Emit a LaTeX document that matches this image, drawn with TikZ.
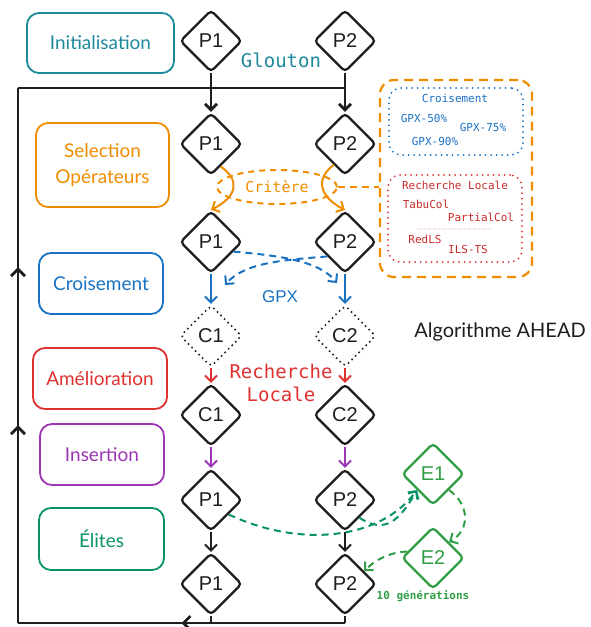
\documentclass[tikz,border=0pt]{standalone}
\usepackage{fontspec}
\usetikzlibrary{shapes.geometric,arrows.meta,decorations.markings,calc}
\newfontfamily\monof{DejaVu Sans Mono}
\newfontfamily\sansf{Liberation Sans}
\newfontfamily\handf{Lato}
\definecolor{cteal}{HTML}{1C8A9A}
\definecolor{corange}{HTML}{F08C00}
\definecolor{cblue}{HTML}{1971C2}
\definecolor{cred}{HTML}{E03131}
\definecolor{cdred}{HTML}{C92A2A}
\definecolor{cpurple}{HTML}{9C36B5}
\definecolor{celite}{HTML}{099268}
\definecolor{cgreen}{HTML}{2F9E44}
\definecolor{cink}{HTML}{1E1E1E}
\begin{document}
\begin{tikzpicture}[x=1pt,y=-1pt,
  dia/.style={diamond, draw=cink, line width=2.2pt, minimum size=62pt, inner sep=0pt, aspect=1, rounded corners=4pt, text=cink, font=\sansf\fontsize{20}{20}\selectfont},
  dotdia/.style={dia, dash pattern=on 0pt off 5pt, line cap=round},
  gdia/.style={dia, draw=cgreen, text=cgreen},
  lbl/.style={draw, rounded corners=12pt, line width=1.8pt, align=center, inner sep=0pt, font=\handf\fontsize{19}{26}\selectfont},
  arr/.style={line width=2pt, -{Straight Barb[length=6pt,width=12pt]}},
  dotted box/.style={draw, rounded corners=12pt, line width=2pt, dash pattern=on 0pt off 5.5pt, line cap=round},
  mono/.style={font=\monof\fontsize{#1}{#1}\selectfont},
  midarrow/.style={postaction={decorate, decoration={markings, mark=at position #1 with {\arrow[line width=2.8pt]{Straight Barb[length=7pt,width=14pt]}}}}}
]
\useasboundingbox (0,0) rectangle (591,627);

% left label boxes
\node[lbl, draw=cteal, text=cteal, minimum width=147pt, minimum height=60pt] (linit) at (100.5,43) {Initialisation};
\node[lbl, draw=corange, text=corange, minimum width=133pt, minimum height=84pt] (lsel) at (102.5,165) {Selection\\Opérateurs};
\node[lbl, draw=cblue, text=cblue, minimum width=124pt, minimum height=61pt] (lcro) at (101,283.5) {Croisement};
\node[lbl, draw=cred, text=cred, minimum width=134pt, minimum height=61pt] (lame) at (100,378.5) {Amélioration};
\node[lbl, draw=cpurple, text=cpurple, minimum width=124pt, minimum height=61pt] (lins) at (102,454.5) {Insertion};
\node[lbl, draw=celite, text=celite, minimum width=125pt, minimum height=62pt] (lel) at (101.5,539) {Élites};

% diamonds
\node[dia] (i1) at (211,41) {P1};
\node[dia] (i2) at (345,41) {P2};
\node[dia] (s1) at (211,144) {P1};
\node[dia] (s2) at (345,144) {P2};
\node[dia] (x1) at (211,242) {P1};
\node[dia] (x2) at (345,242) {P2};
\node[dotdia] (c1) at (211,336) {C1};
\node[dotdia] (c2) at (345,336) {C2};
\node[dia] (a1) at (211,415) {C1};
\node[dia] (a2) at (345,415) {C2};
\node[dia] (n1) at (211,500) {P1};
\node[dia] (n2) at (345,500) {P2};
\node[dia] (e1) at (211,584) {P1};
\node[dia] (e2) at (345,584) {P2};
\node[gdia] (g1) at (433,474) {E1};
\node[gdia] (g2) at (433,558) {E2};

% text labels
\node[mono=19, text=cteal] (glouton) at (281,60) {Glouton};
\node[mono=19, text=cred, align=center, inner sep=0pt] (rl) at (281,383) {Recherche\\[4pt]Locale};
\node[font=\sansf\fontsize{17}{17}\selectfont, text=cblue] (gpx) at (280,297) {GPX};
\node[font=\handf\fontsize{20}{20}\selectfont, text=cink] (algo) at (500,332) {Algorithme AHEAD};
\node[text=cgreen, font=\monof\bfseries\fontsize{11}{11}\selectfont] (gen) at (423,596) {10 générations};

% Critere ellipse
\node[ellipse, draw=corange, dash pattern=on 6pt off 5pt, line width=2pt, minimum width=120pt, minimum height=34pt, text=corange, mono=15] (crit) at (277,187) {Critère};

% right orange box
\node[draw=corange, rounded corners=14pt, line width=2.2pt, dash pattern=on 9pt off 6pt, minimum width=152pt, minimum height=197pt] (rbox) at (456,178.5) {};
\node[dotted box, draw=cblue, minimum width=134pt, minimum height=67pt] (bbox) at (456,121.5) {};
\node[dotted box, draw=cred, minimum width=134pt, minimum height=87pt] (redbox) at (455,218.5) {};

\node[mono=11, text=cblue] (tcro) at (455,98) {Croisement};
\node[mono=11, text=cblue] (t50) at (424,118) {GPX-50\%};
\node[mono=11, text=cblue] (t75) at (483,127) {GPX-75\%};
\node[mono=11, text=cblue] (t90) at (435,141) {GPX-90\%};

\node[mono=11, text=cdred] (trl) at (455,185) {Recherche Locale};
\node[mono=11, text=cdred] (ttabu) at (426,204) {TabuCol};
\node[mono=11, text=cdred] (tpart) at (481,217) {PartialCol};
\node[mono=11, text=cdred] (tred) at (425,239) {RedLS};
\node[mono=11, text=cdred] (tils) at (468,249) {ILS-TS};
\coordinate (sepa) at (417,229);
\coordinate (sepb) at (490,229);
\draw[cdred, line width=0.8pt, dash pattern=on 0pt off 2.5pt, line cap=round] (sepa) -- (sepb);

% main loop
\coordinate (tl) at (18,88);
\coordinate (bl) at (18,623);
\coordinate (tr) at (345,88);
\coordinate (br) at (345,623);
\draw[cink, line width=2.8pt] (tr) -- (tl);
\draw[cink, line width=2.8pt, midarrow=0.37, midarrow=0.665] (bl) -- (tl);
\draw[cink, line width=2.8pt, midarrow=0.5] (br) -- (bl);
\draw[cink, line width=2.8pt] (e1.south) -- (e1.south |- br);
\draw[cink, line width=2.8pt] (e2.south) -- (br);

% vertical arrows
\draw[arr, cink, line width=2.8pt] (i1.south) -- (s1.north);
\draw[arr, cink, line width=2.8pt] (i2.south) -- (s2.north);
\draw[arr, cblue] (x1.south) -- (c1.north);
\draw[arr, cblue] (x2.south) -- (c2.north);
\draw[arr, cred] (c1.south) -- (a1.north);
\draw[arr, cred] (c2.south) -- (a2.north);
\draw[arr, cpurple] (a1.south) -- (n1.north);
\draw[arr, cpurple] (a2.south) -- (n2.north);
\draw[arr, cink] (n1.south) -- (e1.north);
\draw[arr, cink] (n2.south) -- (e2.north);

% orange selection arrows
\draw[arr, corange] ($(s1.south)!0.3!(s1.east)$) .. controls (240,180) and (238,196) .. (x1.north);
\draw[arr, corange] ($(s2.south)!0.35!(s2.west)$) .. controls (316,178) and (318,196) .. (x2.north);
\draw[corange, line width=2pt, dash pattern=on 7pt off 5pt] (crit.east) -- (crit.east -| rbox.west);

% GPX crossing
\draw[arr, cblue, dash pattern=on 7pt off 5pt] ($(x1.east)!0.3!(x1.south)$) .. controls (285,256) and (320,262) .. (337,283);
\draw[arr, cblue, dash pattern=on 7pt off 5pt] ($(x2.west)!0.45!(x2.south)$) .. controls (285,260) and (245,262) .. (225,285);

% elites
\draw[arr, celite, dash pattern=on 7pt off 5pt] ($(n1.east)!0.45!(n1.south)$) .. controls (300,548) and (380,540) .. (g1.south west);
\draw[arr, celite, dash pattern=on 7pt off 5pt] ($(n2.east)!0.55!(n2.south)$) .. controls (385,535) and (400,520) .. (g1.south west);
\draw[arr, cgreen, dash pattern=on 7pt off 5pt] ($(g1.east)!0.5!(g1.south)$) .. controls (470,505) and (470,530) .. ($(g2.east)!0.5!(g2.north)$);
\draw[arr, cgreen, dash pattern=on 7pt off 5pt] ($(g2.west)!0.2!(g2.north)$) .. controls (390,552) and (375,560) .. ($(e2.north)!0.6!(e2.east)$);
\end{tikzpicture}
\end{document}
